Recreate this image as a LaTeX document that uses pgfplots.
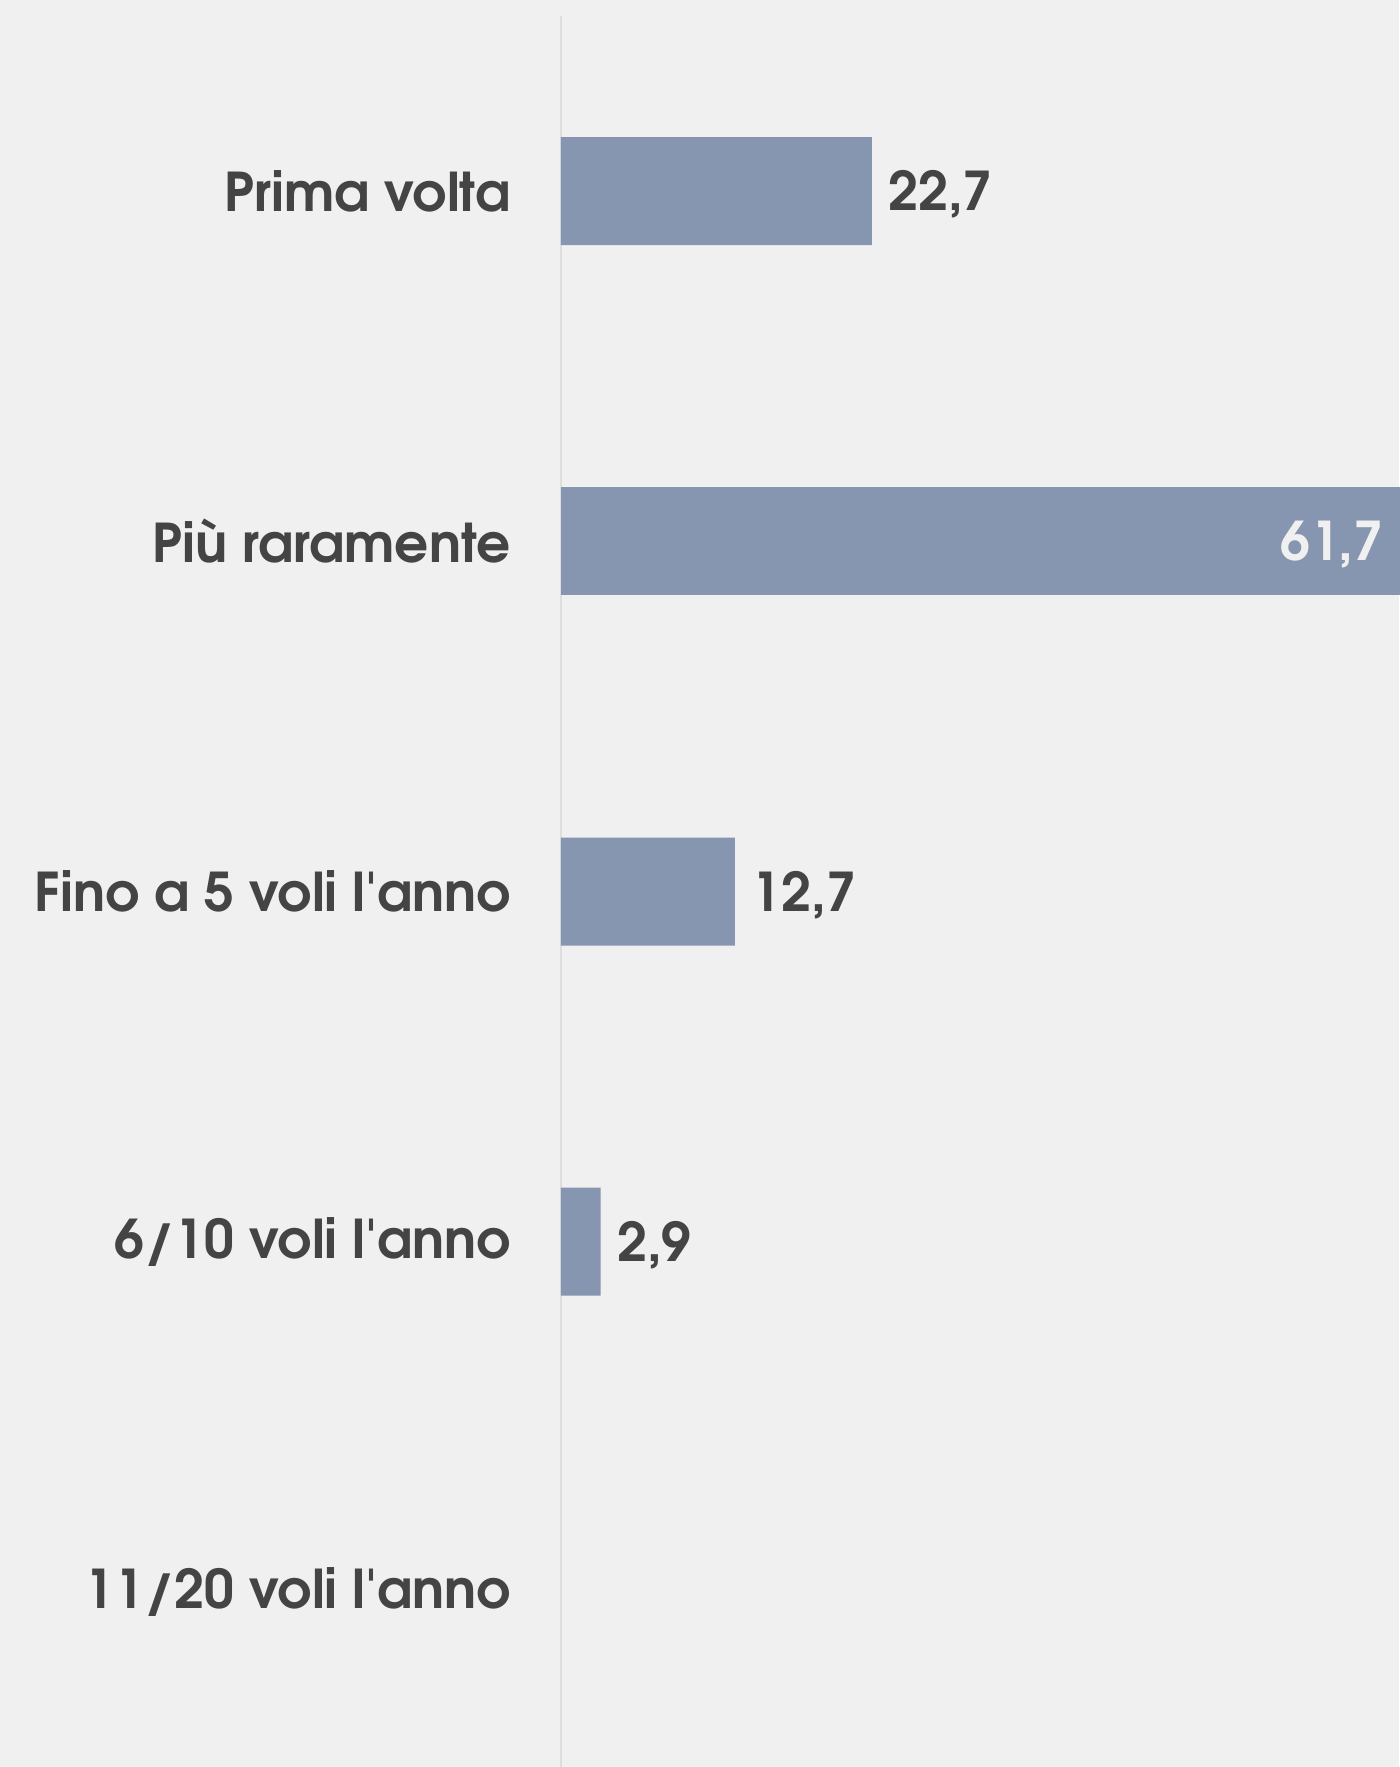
\documentclass[border=0pt]{standalone}
\usepackage{pgfplots}
\pgfplotsset{compat=1.18}
\usepackage{fontspec}
\setmainfont{texgyreadventor}[Extension=.otf, UprightFont=*-regular, BoldFont=*-bold, Ligatures=TeXOff]
\definecolor{bgcol}{HTML}{F0F0F0}
\definecolor{barcol}{HTML}{8796B0}
\definecolor{txtcol}{HTML}{444444}
\definecolor{linecol}{HTML}{DEDEDE}
\definecolor{inlab}{HTML}{F0F0F0}
\begin{document}
\begin{tikzpicture}
\fill[bgcol] (-280.5pt,0pt) rectangle (419pt,883.5pt);
\useasboundingbox (-280.5pt,0pt) rectangle (419pt,883.5pt);
\begin{axis}[
  at={(0pt,0pt)}, anchor=south west,
  scale only axis, width=419pt, height=875.5pt,
  xbar, bar width=54pt, bar shift=0pt,
  xmin=0, xmax=61.2,
  ymin=-0.5, ymax=4.5, y dir=reverse,
  hide x axis,
  axis y line*=left,
  y axis line style={draw=linecol, line width=1.2pt, -},
  ytick={0,1,2,3,4},
  yticklabels={Prima volta, Più raramente, Fino a 5 voli l'anno, 6/10 voli l'anno, 11/20 voli l'anno},
  ytick style={draw=none},
  y tick label style={font=\fontsize{26.7}{31}\selectfont\bfseries, text=txtcol, inner sep=0pt, xshift=-20.7pt, anchor=east},
  clip=false,
  /pgf/number format/.cd, fixed, fixed zerofill, precision=1, use comma, assume math mode=true,
]
\addplot[fill=barcol, draw=none,
  nodes near coords,
  every node near coord/.append style={font=\fontsize{26.7}{31}\selectfont\bfseries, text=txtcol, anchor=west, inner sep=0pt, xshift=8pt, yshift=-1.7pt}]
  coordinates {(22.7,0) (12.7,2) (2.9,3)};
\addplot[fill=barcol, draw=none,
  nodes near coords,
  every node near coord/.append style={font=\fontsize{26.7}{31}\selectfont\bfseries, text=inlab, anchor=east, inner sep=0pt, xshift=-11.3pt, yshift=-1.7pt}]
  coordinates {(61.7,1)};
\end{axis}
\end{tikzpicture}
\end{document}
